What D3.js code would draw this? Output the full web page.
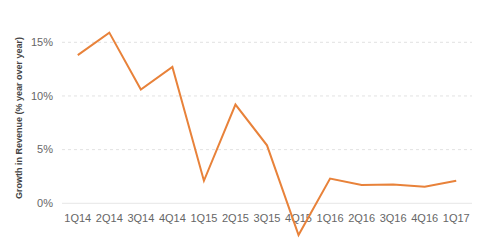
<!DOCTYPE html>
<html>
<head>
<meta charset="utf-8">
<script src="https://cdn.jsdelivr.net/npm/d3@7"></script>
<style>
  body { margin: 0; background: #fff; }
  svg { display: block; font-family: "Liberation Sans", Arial, sans-serif; }
</style>
</head>
<body>
<svg id="chart" width="480" height="251"></svg>
<script>
var quarters = ["1Q14","2Q14","3Q14","4Q14","1Q15","2Q15","3Q15","4Q15","1Q16","2Q16","3Q16","4Q16","1Q17"];
var growth = [13.8, 15.9, 10.6, 12.7, 2.1, 9.2, 5.4, -2.95, 2.3, 1.7, 1.75, 1.55, 2.1];
var yTicks = [0, 5, 10, 15];

var svg = d3.select("#chart");
var left = 62, right = 472;

var x = d3.scalePoint()
    .domain(quarters)
    .range([left, right])
    .padding(0.5);

var y = d3.scaleLinear()
    .domain([0, 15])
    .range([203.3, 42.3]);

// grid lines
svg.append("g").selectAll("line")
    .data(yTicks)
    .join("line")
    .attr("x1", left)
    .attr("x2", right)
    .attr("y1", d => y(d))
    .attr("y2", d => y(d))
    .attr("stroke", d => d === 0 ? "#e6e6e6" : "#e2e2e2")
    .attr("stroke-width", 1)
    .attr("stroke-dasharray", d => d === 0 ? null : "3,3");

// y labels
svg.append("g").selectAll("text")
    .data(yTicks)
    .join("text")
    .attr("x", 53)
    .attr("y", d => y(d))
    .attr("dy", "0.35em")
    .attr("text-anchor", "end")
    .attr("font-size", "11px")
    .attr("fill", "#666")
    .text(d => d + "%");

// x labels
svg.append("g").selectAll("text")
    .data(quarters)
    .join("text")
    .attr("x", d => x(d))
    .attr("y", 218)
    .attr("dy", "0.35em")
    .attr("text-anchor", "middle")
    .attr("font-size", "11px")
    .attr("fill", "#666")
    .text(d => d);

// axis title
svg.append("text")
    .attr("transform", "translate(19,118) rotate(-90)")
    .attr("dy", "0.35em")
    .attr("text-anchor", "middle")
    .attr("font-size", "9px")
    .attr("font-weight", "bold")
    .attr("fill", "#444")
    .text("Growth in Revenue (% year over year)");

var line = d3.line()
    .x((d, i) => x(quarters[i]))
    .y(d => y(d));

svg.append("path")
    .datum(growth)
    .attr("d", line)
    .attr("fill", "none")
    .attr("stroke", "#e8823a")
    .attr("stroke-width", 2)
    .attr("stroke-linejoin", "miter");
</script>
</body>
</html>
